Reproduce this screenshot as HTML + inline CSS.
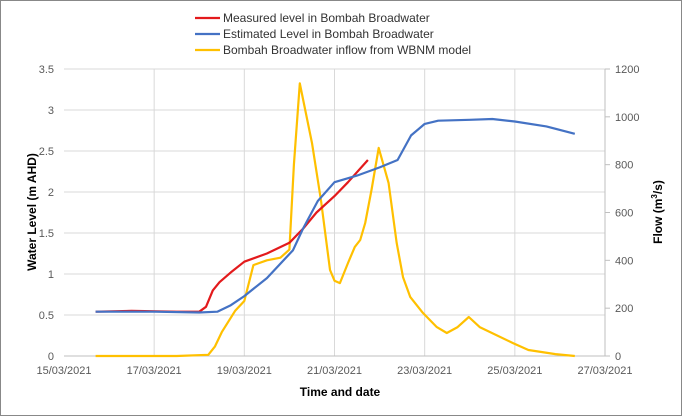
<!DOCTYPE html>
<html><head><meta charset="utf-8"><style>
body{margin:0;background:#fff}
svg{display:block;font-family:"Liberation Sans",sans-serif}
</style></head><body>
<svg id="c" width="682" height="416"></svg>
<script>
const xTickLabels=["15/03/2021","17/03/2021","19/03/2021","21/03/2021","23/03/2021","25/03/2021","27/03/2021"];
const yLeftTicks=[0,0.5,1,1.5,2,2.5,3,3.5];
const yRightTicks=[0,200,400,600,800,1000,1200];
// days since 15/03/2021
const measuredDays=[0.7,1.5,2.5,3.0,3.15,3.3,3.45,3.7,4.0,4.5,5.0,5.3,5.6,6.0,6.3,6.74];
const measuredLevel=[0.54,0.55,0.54,0.54,0.6,0.8,0.9,1.02,1.15,1.25,1.38,1.55,1.75,1.95,2.12,2.39];
const estDays=[0.7,2,3.0,3.4,3.7,4.0,4.5,5.08,5.3,5.63,6.0,6.5,7.0,7.4,7.7,8.0,8.3,9.0,9.5,10.0,10.7,11.33];
const estLevel=[0.54,0.54,0.53,0.54,0.62,0.73,0.95,1.29,1.55,1.89,2.12,2.2,2.3,2.39,2.69,2.83,2.87,2.88,2.89,2.86,2.8,2.71];
const flowDays=[0.7,2.5,3.2,3.35,3.5,3.8,4.0,4.2,4.5,4.8,5.0,5.1,5.23,5.5,5.7,5.9,6.0,6.12,6.3,6.45,6.57,6.68,6.82,6.98,7.2,7.38,7.52,7.68,7.96,8.27,8.49,8.73,8.98,9.22,9.96,10.3,10.9,11.33];
const flowValues=[0,0,5,40,100,190,230,380,400,411,445,800,1140,890,650,360,315,305,389,456,485,556,694,870,723,472,330,247,180,121,96,121,163,121,54,25,8,0];

const svg=document.getElementById('c');const NS='http://www.w3.org/2000/svg';
function el(t,a,txt){const e=document.createElementNS(NS,t);for(const k in a)e.setAttribute(k,a[k]);if(txt!==undefined)e.textContent=txt;svg.appendChild(e);return e;}
const X0=64,X1=605,Y0=356,Y1=69;
const xs=d=>X0+d*(X1-X0)/12;
const yl=v=>Y0-v*(Y0-Y1)/3.5;
const yr=v=>Y0-v*(Y0-Y1)/1200;
let e=el('rect',{x:0.5,y:0.5,width:681,height:415,fill:'#fff',stroke:'#888'});

yLeftTicks.forEach(v=>{const y=yl(v);
 if(v>0){e=el('line',{x1:X0,x2:X1,y1:y,y2:y,stroke:'#d9d9d9'});}
 e=el('text',{x:X0-10,y:y+4,'text-anchor':'end','font-size':11,fill:'#595959'},String(v));
 });
xTickLabels.forEach((t,i)=>{const x=xs(i*2);
 if(i>0&&i<6){e=el('line',{x1:x,x2:x,y1:Y1,y2:Y0,stroke:'#d9d9d9'});}
 e=el('text',{x:x,y:Y0+18,'text-anchor':'middle','font-size':11,fill:'#595959'},t);
 });
e=el('line',{x1:X0,x2:X1,y1:Y0,y2:Y0,stroke:'#bfbfbf'});
e=el('line',{x1:X1,x2:X1,y1:Y1,y2:Y0,stroke:'#bfbfbf'});
yRightTicks.forEach(v=>{const y=yr(v);
 e=el('line',{x1:X1,x2:X1+5,y1:y,y2:y,stroke:'#bfbfbf'});
 e=el('text',{x:X1+10,y:y+4,'font-size':11,fill:'#595959'},String(v));
 });
function line(dx,dy,fy,col,name){const d=dx.map((v,i)=>(i?'L':'M')+xs(v).toFixed(1)+','+fy(dy[i]).toFixed(1)).join('');
 const p=el('path',{d:d,fill:'none',stroke:col,'stroke-width':2.2,'stroke-linejoin':'round'});
 }
line(flowDays,flowValues,yr,'#ffc000','inflow-line');
line(measuredDays,measuredLevel,yl,'#e31a1c','measured-level-line');
line(estDays,estLevel,yl,'#4472c4','estimated-level-line');
e=el('text',{x:0,y:0,transform:'translate(36,212) rotate(-90)','text-anchor':'middle','font-size':12,'font-weight':'bold'},'Water Level (m AHD)');

e=el('text',{x:0,y:0,transform:'translate(662,212) rotate(-90)','text-anchor':'middle','font-size':12,'font-weight':'bold'});
e.innerHTML='Flow (m<tspan font-size="8" dy="-5">3</tspan><tspan dy="5">/s)</tspan>';

e=el('text',{x:340,y:396,'text-anchor':'middle','font-size':12,'font-weight':'bold'},'Time and date');

[['Measured level in Bombah Broadwater','#e31a1c'],['Estimated Level in Bombah Broadwater','#4472c4'],['Bombah Broadwater inflow from WBNM model','#ffc000']].forEach((l,i)=>{const y=18+i*16;
 e=el('line',{x1:195,x2:220,y1:y,y2:y,stroke:l[1],'stroke-width':2.2});
 e=el('text',{x:223,y:y+4,'font-size':12,fill:'#333'},l[0]);});
</script>
</body></html>
